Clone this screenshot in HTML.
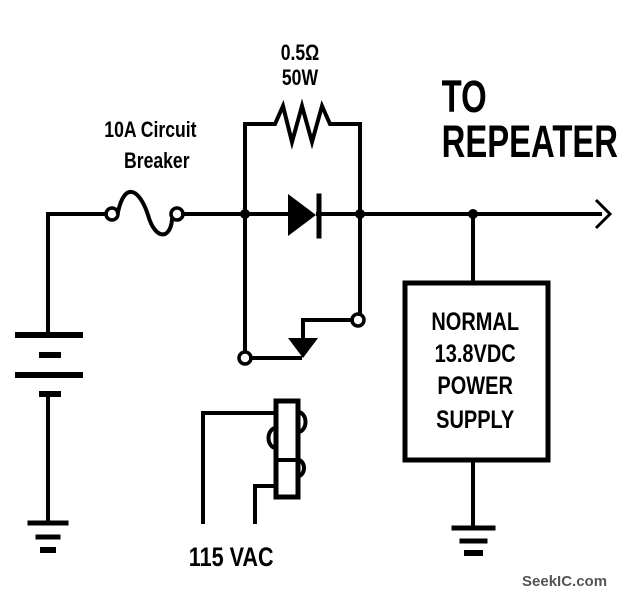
<!DOCTYPE html>
<html><head><style>
body{margin:0;background:#fff}
svg{display:block}
text{font-family:"Liberation Sans",sans-serif;font-weight:bold;fill:#000}
</style></head><body>
<svg width="642" height="598" viewBox="0 0 642 598" xmlns="http://www.w3.org/2000/svg">
<g stroke="#000" stroke-width="4" fill="none" stroke-linecap="square">
<polyline points="48,335 48,214 106,214"/>
<circle cx="112" cy="214" r="6" stroke-width="3.5"/>
<circle cx="177" cy="214" r="6" stroke-width="3.5"/>
<path d="M118,212 C125,180 140,190 148,215 C155,240 170,240 172,220"/>
<line x1="183" y1="214" x2="288" y2="214"/>
<line x1="318" y1="214" x2="600" y2="214"/>
<polyline points="596,200 610,214 596,228" stroke-width="3" stroke-linecap="butt"/>
<polyline points="245,214 245,124 275,124 283,106 292,142 302,106 312,142 322,106 330,124 360,124 360,214"/>
<line x1="319" y1="196" x2="319" y2="236" stroke-width="5"/>
<line x1="245" y1="214" x2="245" y2="351"/>
<line x1="251" y1="358" x2="300" y2="358"/>
<circle cx="245" cy="358" r="6" stroke-width="3.5"/>
<line x1="360" y1="214" x2="360" y2="314"/>
<circle cx="358" cy="320" r="6" stroke-width="3.5"/>
<polyline points="352,320 303,320 303,338"/>
<line x1="18" y1="335" x2="80" y2="335" stroke-width="6"/>
<line x1="42" y1="355" x2="58" y2="355" stroke-width="6"/>
<line x1="18" y1="375" x2="80" y2="375" stroke-width="6"/>
<line x1="42" y1="394" x2="58" y2="394" stroke-width="6"/>
<line x1="48" y1="394" x2="48" y2="522"/>
<line x1="30" y1="523" x2="66" y2="523" stroke-width="5"/>
<line x1="38" y1="537" x2="58" y2="537" stroke-width="5"/>
<line x1="43" y1="550" x2="53" y2="550" stroke-width="6"/>
<rect x="405" y="283" width="143" height="177" stroke-width="5"/>
<line x1="473" y1="214" x2="473" y2="283"/>
<line x1="473" y1="460" x2="473" y2="527"/>
<line x1="454" y1="528" x2="493" y2="528" stroke-width="5"/>
<line x1="462" y1="541" x2="485" y2="541" stroke-width="5"/>
<line x1="467" y1="553" x2="480" y2="553" stroke-width="6"/>
<rect x="276" y="401" width="22" height="96" stroke-width="5"/>
<polyline points="203,522 203,413 276,413"/>
<polyline points="255,522 255,486 276,486"/>
<path d="M298,412 a6,8 0 0 1 0,20"/>
<path d="M276,448 a6,8 0 0 1 0,-20"/>
<line x1="276" y1="460" x2="298" y2="460"/>
<path d="M298,460 a6,8 0 0 1 0,16"/>
</g>
<g fill="#000">
<polygon points="288,194 288,236 316,215"/>
<polygon points="288,338 318,338 303,358"/>
<circle cx="245" cy="214" r="5"/>
<circle cx="360" cy="214" r="5"/>
<circle cx="473" cy="214" r="5"/>
</g>
<g transform="scale(0.8,1)">
<text x="375" y="60" font-size="22" text-anchor="middle">0.5Ω</text>
<text x="375" y="85" font-size="22" text-anchor="middle">50W</text>
<text x="188" y="137" font-size="22" text-anchor="middle">10A Circuit</text>
<text x="196" y="168" font-size="22" text-anchor="middle">Breaker</text>
<text x="594" y="330" font-size="25" text-anchor="middle">NORMAL</text>
<text x="594" y="362" font-size="25" text-anchor="middle">13.8VDC</text>
<text x="594" y="394" font-size="25" text-anchor="middle">POWER</text>
<text x="594" y="428" font-size="25" text-anchor="middle">SUPPLY</text>
<text x="236" y="566" font-size="27">115 VAC</text>
</g>
<g transform="scale(0.73,1)">
<text x="605" y="112" font-size="45">TO</text>
<text x="605" y="157" font-size="45">REPEATER</text>
</g>
<text x="522" y="586" font-size="15" style="fill:#555">SeekIC.com</text>
</svg>
</body></html>
